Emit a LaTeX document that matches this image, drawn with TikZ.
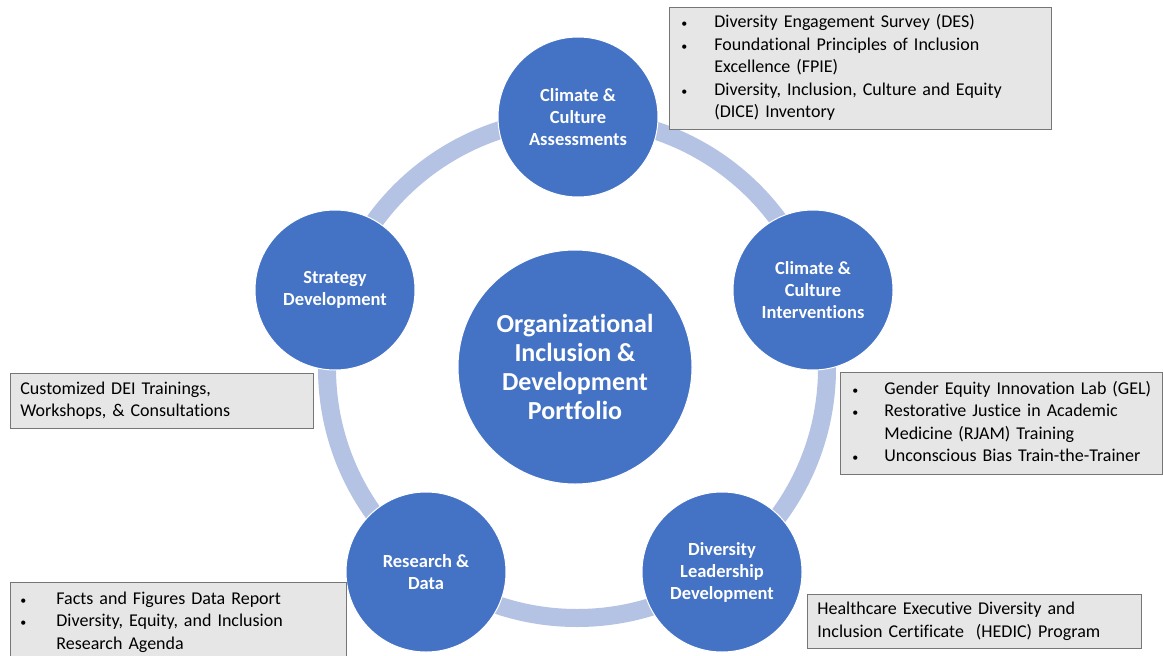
\documentclass[tikz,border=0pt]{standalone}
\usepackage{fontspec}
\setmainfont{Carlito}[Ligatures=NoCommon]
\usetikzlibrary{positioning}
\definecolor{hubblue}{HTML}{4472C4}
\definecolor{ringblue}{HTML}{B4C2E3}
\definecolor{boxgray}{HTML}{E7E6E6}
\definecolor{boxline}{HTML}{767676}
\newcommand{\bl}{\hspace{-2pt}{\fontsize{12}{12}\selectfont\textbullet}}
\begin{document}
\begin{tikzpicture}[x=1pt, y=-1pt,
	hub/.style={circle, fill=hubblue, draw=white, line width=1pt, text=white, font=\bfseries\fontsize{18.5}{22}\selectfont, align=center, minimum size=160pt, inner sep=0pt},
	bighub/.style={hub, minimum size=234pt, font=\bfseries\fontsize{26}{29}\selectfont},
	info/.style={draw=boxline, fill=boxgray, line width=0.8pt, anchor=north west, align=left, font=\fontsize{18}{22.5}\selectfont, inner ysep=0pt},
	ring/.style={draw=ringblue, line width=18pt}]
	\clip (0,0) rectangle (1163,656);
	\fill[white] (0,0) rectangle (1163,656);
	\coordinate (O) at (577,368);
	\draw[ring] (O) circle (250);
	\node[bighub] (port) at (575,367) {Organizational\\Inclusion \&\\Development\\Portfolio};
	\node[hub] (assess) at (578,117) {Climate \&\\Culture\\Assessments};
	\node[hub] (interv) at (813,290) {Climate \&\\Culture\\Interventions};
	\node[hub] (strat) at (335,290) {Strategy\\Development};
	\node[hub] (resdata) at (426,572) {Research \&\\Data};
	\node[hub] (lead) at (722,572) {Diversity\\Leadership\\Development};
	% lists beside the hubs
	\node[info, text width=354pt, minimum height=122pt, inner xsep=14pt] (assessbox) at (669,7) {%
		\begin{tabular}{@{}p{31pt}@{}l@{}}
		\bl & Diversity Engagement Survey (DES)\\
		\bl & Foundational Principles of Inclusion\\
		    & Excellence (FPIE)\\
		\bl & Diversity, Inclusion, Culture and Equity\\
		    & (DICE) Inventory
		\end{tabular}};
	\node[info, text width=294pt, minimum height=102pt, inner xsep=14pt] (intervbox) at (840,372) {%
		\begin{tabular}{@{}p{30pt}@{}l@{}}
		\bl & Gender Equity Innovation Lab (GEL)\\
		\bl & Restorative Justice in Academic\\
		    & Medicine (RJAM) Training\\
		\bl & Unconscious Bias Train-the-Trainer
		\end{tabular}};
	\node[info, text width=283pt, minimum height=55pt, inner xsep=10pt] (stratbox) at (10,373) {%
		Customized DEI Trainings,\\Workshops, \& Consultations};
	\node[info, text width=312pt, minimum height=80pt, inner xsep=12pt] (resbox) at (10,582) {%
		\begin{tabular}{@{}p{34pt}@{}l@{}}
		\bl & Facts and Figures Data Report\\
		\bl & Diversity, Equity, and Inclusion\\
		    & Research Agenda
		\end{tabular}};
	\node[info, text width=314pt, minimum height=54pt, inner xsep=10pt] (leadbox) at (807,594) {%
		Healthcare Executive Diversity and\\Inclusion Certificate~ (HEDIC) Program};
\end{tikzpicture}
\end{document}
